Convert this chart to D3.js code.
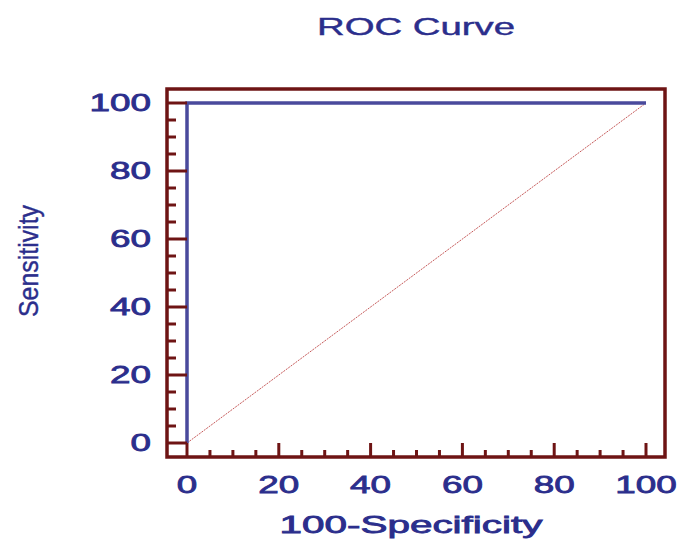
<!DOCTYPE html>
<html>
<head>
<meta charset="utf-8">
<script src="https://cdn.jsdelivr.net/npm/d3@7"></script>
<style>
  body { margin: 0; background: #fff; }
  svg { display: block; }
  text { font-family: "Liberation Sans", Arial, sans-serif; fill: #2b2e8c; }
</style>
</head>
<body>
<svg width="681" height="555"></svg>
<script>
// datos de la curva ROC
const rocX = [0, 0, 100];
const rocY = [0, 100, 100];
const diagX = [0, 100];
const diagY = [0, 100];
const majorTicks = [0, 20, 40, 60, 80, 100];
const minorTicks = d3.range(0, 101, 5).filter(v => v % 20 !== 0);

const svg = d3.select('svg');
const navy = '#2b2e8c';
const maroon = '#6e1414';

const x = d3.scaleLinear().domain([0, 100]).range([187, 646]);
const y = d3.scaleLinear().domain([0, 100]).range([443, 103]);

// marco (caja del grafico)
const frame = { left: x(0) - 20, right: x(100) + 19, top: y(100) - 14, bottom: y(0) + 14 };

// linea diagonal de referencia
svg.append('path')
    .datum(diagX.map((d, i) => [d, diagY[i]]))
    .attr('d', d3.line().x(d => x(d[0])).y(d => y(d[1])))
    .attr('fill', 'none')
    .attr('stroke', '#c65a5a')
    .attr('stroke-width', 1)
    .attr('stroke-dasharray', '2,1');

// curva ROC
svg.append('path')
    .datum(rocX.map((d, i) => [d, rocY[i]]))
    .attr('d', d3.line().x(d => x(d[0])).y(d => y(d[1])))
    .attr('fill', 'none')
    .attr('stroke', '#4a4a9c')
    .attr('stroke-width', 3.5);

// ticks del eje x (hacia adentro desde el marco)
const tickG = svg.append('g').attr('stroke', maroon).attr('stroke-width', 3);
tickG.selectAll('.xmaj').data(majorTicks).enter().append('line')
    .attr('x1', d => x(d)).attr('x2', d => x(d))
    .attr('y1', frame.bottom).attr('y2', y(0));
tickG.selectAll('.xmin').data(minorTicks).enter().append('line')
    .attr('x1', d => x(d)).attr('x2', d => x(d))
    .attr('y1', frame.bottom).attr('y2', frame.bottom - 7);
// ticks del eje y
tickG.selectAll('.ymaj').data(majorTicks).enter().append('line')
    .attr('y1', d => y(d)).attr('y2', d => y(d))
    .attr('x1', frame.left).attr('x2', x(0));
tickG.selectAll('.ymin').data(minorTicks).enter().append('line')
    .attr('y1', d => y(d)).attr('y2', d => y(d))
    .attr('x1', frame.left).attr('x2', frame.left + 9);

svg.append('rect')
    .attr('x', frame.left).attr('y', frame.top)
    .attr('width', frame.right - frame.left)
    .attr('height', frame.bottom - frame.top)
    .attr('fill', 'none')
    .attr('stroke', maroon)
    .attr('stroke-width', 3.5);

// etiquetas de ticks (texto ensanchado con un poco de trazo)
const digitW = 20.5;
svg.append('g').selectAll('text').data(majorTicks).enter().append('text')
    .attr('x', d => x(d)).attr('y', 493)
    .attr('text-anchor', 'middle')
    .attr('font-size', 24)
    .attr('stroke', navy).attr('stroke-width', 0.8)
    .attr('textLength', d => String(d).length * digitW)
    .attr('lengthAdjust', 'spacingAndGlyphs')
    .text(d => d);

svg.append('g').selectAll('text').data(majorTicks).enter().append('text')
    .attr('x', 151).attr('y', d => y(d) + 8)
    .attr('text-anchor', 'end')
    .attr('font-size', 24)
    .attr('stroke', navy).attr('stroke-width', 0.8)
    .attr('textLength', d => String(d).length * digitW)
    .attr('lengthAdjust', 'spacingAndGlyphs')
    .text(d => d);

// titulos
svg.append('text')
    .attr('x', 416).attr('y', 35)
    .attr('text-anchor', 'middle')
    .attr('font-size', 23)
    .attr('stroke', navy).attr('stroke-width', 0.4)
    .attr('textLength', 198)
    .attr('lengthAdjust', 'spacingAndGlyphs')
    .text('ROC Curve');

svg.append('text')
    .attr('x', 411).attr('y', 533)
    .attr('text-anchor', 'middle')
    .attr('font-size', 24)
    .attr('stroke', navy).attr('stroke-width', 0.8)
    .attr('textLength', 263)
    .attr('lengthAdjust', 'spacingAndGlyphs')
    .text('100-Specificity');

svg.append('text')
    .attr('transform', 'translate(38,261) rotate(-90)')
    .attr('text-anchor', 'middle')
    .attr('font-size', 28)
    .attr('stroke', navy).attr('stroke-width', 0.4)
    .attr('textLength', 112)
    .attr('lengthAdjust', 'spacingAndGlyphs')
    .text('Sensitivity');
</script>
</body>
</html>
